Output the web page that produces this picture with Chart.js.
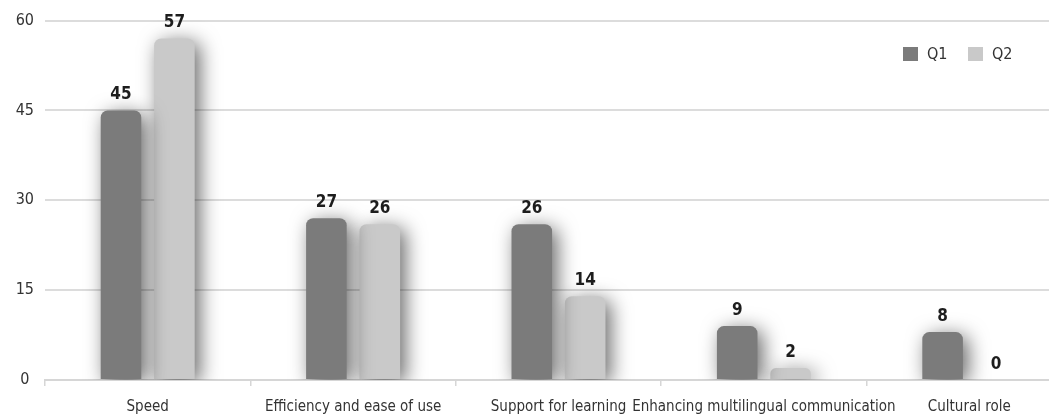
<!DOCTYPE html>
<html>
<head>
<meta charset="utf-8">
<script src="https://cdn.jsdelivr.net/npm/chart.js@4.4.1/dist/chart.umd.min.js"></script>
<style>
  html, body { margin: 0; padding: 0; background: #fff; overflow: hidden; }
  canvas { display: block; }
</style>
</head>
<body>
<canvas id="reasons" width="1072" height="417"></canvas>
<script>
const categories = ['Speed', 'Efficiency and ease of use', 'Support for learning', 'Enhancing multilingual communication', 'Cultural role'];
const q1Values = [45, 27, 26, 9, 8];
const q2Values = [57, 26, 14, 2, 0];
const yTicks = [0, 15, 30, 45, 60];

const FONT = "'Liberation Sans Narrow', 'DejaVu Sans Condensed', 'Roboto Condensed', sans-serif";

// soft drop shadow behind each bar
const barShadow = {
    id: 'barShadow',
    beforeDatasetDraw(chart) {
        const ctx = chart.ctx;
        ctx.save();
        ctx.shadowColor = 'rgba(0, 0, 0, 0.6)';
        ctx.shadowBlur = 20;
        ctx.shadowOffsetX = 5;
        ctx.shadowOffsetY = 4;
    },
    afterDatasetDraw(chart) {
        chart.ctx.restore();
    }
};

// numbers above the bars
const valueLabels = {
    id: 'valueLabels',
    afterDatasetsDraw(chart) {
        const ctx = chart.ctx;
        ctx.save();
        ctx.font = 'bold 17px ' + FONT;
        ctx.fillStyle = '#1d1d1d';
        ctx.textAlign = 'center';
        ctx.textBaseline = 'bottom';
        chart.data.datasets.forEach((ds, i) => {
            chart.getDatasetMeta(i).data.forEach((bar, j) => {
                ctx.fillText(ds.data[j], bar.x, bar.y - 7);
            });
        });
        ctx.restore();
    }
};

// small legend in the top right corner of the plot
const cornerLegend = {
    id: 'cornerLegend',
    afterDraw(chart) {
        const ctx = chart.ctx;
        ctx.save();
        ctx.font = '16px ' + FONT;
        ctx.textBaseline = 'middle';
        let x = 903;
        const y = 54;
        chart.data.datasets.forEach(ds => {
            ctx.fillStyle = ds.backgroundColor;
            ctx.fillRect(x, y - 7, 15, 14);
            ctx.fillStyle = '#333';
            ctx.fillText(ds.label, x + 24, y + 1);
            x += 65;
        });
        ctx.restore();
    }
};

new Chart(document.getElementById('reasons'), {
    type: 'bar',
    data: {
        labels: categories,
        datasets: [
            { label: 'Q1', data: q1Values, backgroundColor: '#7b7b7b' },
            { label: 'Q2', data: q2Values, backgroundColor: '#c9c9c9' }
        ]
    },
    options: {
        responsive: false,
        animation: false,
        devicePixelRatio: 1,
        layout: { padding: { top: 17, left: 0, right: 0, bottom: 0 } },
        datasets: {
            bar: {
                categoryPercentage: 0.52,
                barPercentage: 0.76,
                borderRadius: { topLeft: 7, topRight: 7, bottomLeft: 0, bottomRight: 0 },
                borderSkipped: 'bottom'
            }
        },
        plugins: {
            legend: { display: false },
            tooltip: { enabled: false }
        },
        scales: {
            x: {
                afterFit(scale) { scale.height = 37; },
                grid: { display: true, drawOnChartArea: false, drawTicks: true, tickLength: 6, color: '#d6d6d6', lineWidth: 1.5 },
                border: { display: true, color: '#d6d6d6', width: 2 },
                ticks: { color: '#333', font: { family: FONT, size: 15 }, padding: 12, maxRotation: 0, autoSkip: false }
            },
            y: {
                min: 0,
                max: 60,
                afterBuildTicks(scale) {
                    scale.ticks = yTicks.map(v => ({ value: v }));
                },
                afterFit(scale) { scale.width = 45; },
                grid: { color: '#dcdcdc', lineWidth: 2, drawTicks: false },
                border: { display: false },
                ticks: { color: '#333', font: { family: FONT, size: 16 }, padding: 11, crossAlign: 'center' }
            }
        }
    },
    plugins: [barShadow, valueLabels, cornerLegend]
});
</script>
</body>
</html>
